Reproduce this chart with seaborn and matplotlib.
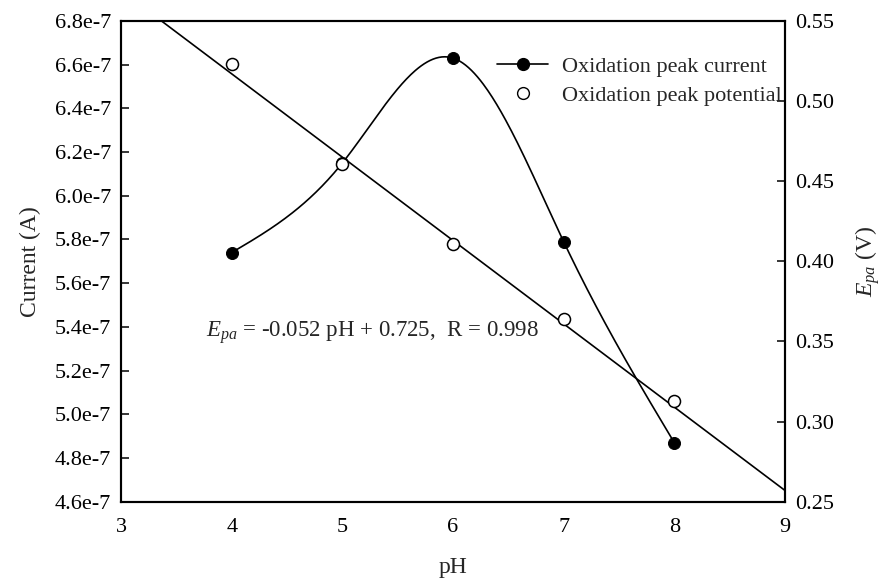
import numpy as np
import pandas as pd
import matplotlib
matplotlib.use("Agg")
import matplotlib.pyplot as plt
from matplotlib.ticker import FuncFormatter, MultipleLocator
from matplotlib.lines import Line2D
import seaborn as sns

ph = [4, 5, 6, 7, 8]
current = [5.74e-7, 6.15e-7, 6.63e-7, 5.79e-7, 4.87e-7]
potential = [0.523, 0.461, 0.411, 0.364, 0.313]
slope, intercept = -0.052, 0.725

sns.set_theme(style="white")
plt.rcParams['font.family'] = ['Liberation Serif', 'DejaVu Serif']
plt.rcParams['mathtext.fontset'] = 'custom'
plt.rcParams['mathtext.it'] = 'Liberation Serif:italic'
plt.rcParams['mathtext.rm'] = 'Liberation Serif'


def natural_spline(x, y, xs):
    x = np.asarray(x, float); y = np.asarray(y, float)
    n = len(x)
    h = np.diff(x)
    A = np.zeros((n, n)); b = np.zeros(n)
    A[0, 0] = A[-1, -1] = 1
    for i in range(1, n - 1):
        A[i, i - 1] = h[i - 1]; A[i, i] = 2 * (h[i - 1] + h[i]); A[i, i + 1] = h[i]
        b[i] = 3 * ((y[i + 1] - y[i]) / h[i] - (y[i] - y[i - 1]) / h[i - 1])
    c = np.linalg.solve(A, b)
    out = np.empty_like(xs)
    for k, xv in enumerate(xs):
        i = min(max(np.searchsorted(x, xv) - 1, 0), n - 2)
        bi = (y[i + 1] - y[i]) / h[i] - h[i] * (2 * c[i] + c[i + 1]) / 3
        di = (c[i + 1] - c[i]) / (3 * h[i])
        t = xv - x[i]
        out[k] = y[i] + bi * t + c[i] * t ** 2 + di * t ** 3
    return out


fig = plt.figure(figsize=(8.9, 5.82), dpi=100)
ax = fig.add_axes([0.136, 0.138, 0.746, 0.826])
ax2 = ax.twinx()

xs = np.linspace(min(ph), max(ph), 300)
curve = pd.DataFrame({"pH": xs, "I": natural_spline(ph, current, xs)})
sns.lineplot(data=curve, x="pH", y="I", ax=ax, color="black", lw=1.2, legend=False)
df = pd.DataFrame({"pH": ph, "I": current, "E": potential})
sns.scatterplot(data=df, x="pH", y="I", ax=ax, color="black", s=75, edgecolor="black", zorder=3)

xl = np.linspace(3, 9, 50)
fit = pd.DataFrame({"pH": xl, "E": slope * xl + intercept})
sns.lineplot(data=fit, x="pH", y="E", ax=ax2, color="black", lw=1.2, legend=False)
sns.scatterplot(data=df, x="pH", y="E", ax=ax2, facecolor="white", edgecolor="black",
                linewidth=1.1, s=75, zorder=4)

ax.set_xlim(3, 9)
ax.set_ylim(4.6e-7, 6.8e-7)
ax2.set_ylim(0.25, 0.55)
ax.xaxis.set_major_locator(MultipleLocator(1))
ax.yaxis.set_major_locator(MultipleLocator(0.2e-7))
ax.yaxis.set_major_formatter(FuncFormatter(lambda v, p: f"{v*1e7:.1f}e-7"))
ax2.yaxis.set_major_locator(MultipleLocator(0.05))
ax2.yaxis.set_major_formatter(FuncFormatter(lambda v, p: f"{v:.2f}"))

for a in (ax, ax2):
    for s in a.spines.values():
        s.set_color("black"); s.set_linewidth(1.5)
    a.tick_params(direction="in", length=6, width=1.1, colors="black", labelsize=16)
ax.tick_params(axis="x", top=False, pad=12)
ax.tick_params(axis="y", pad=7)
ax2.tick_params(axis="y", pad=7)

ax.set_xlabel("pH", fontsize=17, labelpad=14)
ax.set_ylabel("Current (A)", fontsize=17, labelpad=10)
ax2.set_ylabel("$E_{pa}$ (V)", fontsize=17, labelpad=14)

ax.text(3.77, 5.375e-7, "$E_{pa}$ = -0.052 pH + 0.725,  R = 0.998", fontsize=16.5,
        ha="left", va="center")

handles = [Line2D([], [], color="black", marker="o", markersize=8.5, lw=1.2),
           Line2D([], [], color="black", marker="o", markerfacecolor="white", markersize=8.5, lw=0)]
ax2.legend(handles, ["Oxidation peak current", "Oxidation peak potential"],
           loc="center left", bbox_to_anchor=(0.553, 0.875), frameon=False, fontsize=16,
           handlelength=2.3, handletextpad=0.6, labelspacing=0.38, borderaxespad=0)

fig.savefig("out.png", dpi=100)
